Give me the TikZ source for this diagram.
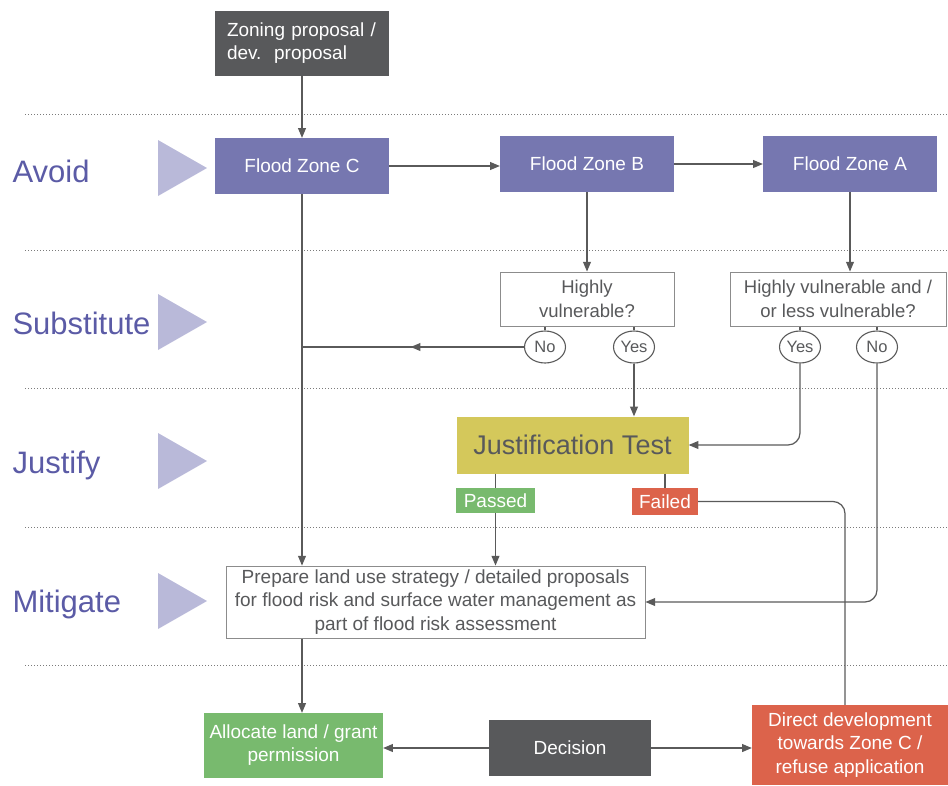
\documentclass[tikz,border=0pt]{standalone}
\usepackage{fontspec}
\setmainfont{Liberation Sans}
\usetikzlibrary{positioning}
\usetikzlibrary{arrows}
\usetikzlibrary{calc}
\usetikzlibrary{decorations.markings}
\usetikzlibrary{shapes.geometric}
\definecolor{darkbox}{HTML}{58595B}
\definecolor{zoneblue}{HTML}{7677B0}
\definecolor{lanetri}{HTML}{B9B9D9}
\definecolor{lanetext}{HTML}{5B5BA6}
\definecolor{testyellow}{HTML}{D4C85B}
\definecolor{okgreen}{HTML}{78BA6E}
\definecolor{badred}{HTML}{DC634B}
\definecolor{wire}{HTML}{5A5A5A}
\definecolor{boxline}{HTML}{8C8C8C}
\tikzset{>=triangle 45}
\tikzset{wr/.style={draw=wire, line width=1.25pt}}
\tikzset{blk/.style={fill=darkbox, text=white, inner sep=0pt, align=left, font=\fontsize{19}{23}\selectfont}}
\tikzset{zone/.style={fill=zoneblue, text=white, minimum width=174pt, minimum height=56pt, inner sep=0pt, font=\fontsize{19}{22}\selectfont}}
\tikzset{quest/.style={draw=boxline, line width=1pt, fill=white, text=darkbox, inner sep=0pt, align=center, font=\fontsize{18.5}{24}\selectfont}}
\tikzset{ans/.style={draw=wire, line width=1.1pt, ellipse, minimum width=41pt, minimum height=32pt, inner sep=0pt, text=darkbox, font=\fontsize{16.5}{18}\selectfont}}
\tikzset{tag/.style={text=white, inner sep=0pt, font=\fontsize{19}{20}\selectfont}}
\tikzset{lane/.style={anchor=west, text=lanetext, font=\fontsize{31}{34}\selectfont}}
\tikzset{sep/.style={draw=wire!80, line width=1pt, dotted}}
\tikzset{midarr/.style={postaction={decorate}, decoration={markings, mark=at position 0.51 with {\arrow{>}}}}}
\begin{document}
\begin{tikzpicture}[x=1pt, y=-1pt]
\useasboundingbox (0,0) rectangle (948,785);

% lanes
\foreach \yy in {114, 250, 388, 527, 665}
  \draw[sep] (25,\yy) -- (948,\yy);

\foreach \yy/\ty/\name in {168/171/Avoid, 322/323/Substitute, 461/465/Justify, 601/604/Mitigate} {
  \node[lane] at (9,\ty) {\name};
  \fill[lanetri] (158,\yy-28) -- (207,\yy) -- (158,\yy+28) -- cycle;
}

% boxes
\node[blk, minimum width=174pt, minimum height=65pt, text width=154pt] (zon) at (302, 43.5) {\hspace*{2pt}Zoning proposal /\\\hspace*{2pt}dev.\ \ proposal};

\node[zone] (C) at (302, 166) {Flood Zone C};
\node[zone] (B) at (587, 164) {Flood Zone B};
\node[zone] (A) at (850, 164) {Flood Zone A};

\node[quest, minimum width=174pt, minimum height=54pt] (qB) at (587, 299) {Highly\\vulnerable?};
\node[quest, minimum width=216pt, minimum height=54pt] (qA) at (838, 299) {Highly vulnerable and /\\or less vulnerable?};

\node[ans] (noB) at (545, 347) {No};
\node[ans] (yesB) at (634, 347) {Yes};
\node[ans] (yesA) at (800, 347) {Yes};
\node[ans] (noA) at (877, 347) {No};

\node[fill=testyellow, text=darkbox, minimum width=232pt, minimum height=57pt, inner sep=0pt, font=\fontsize{27}{30}\selectfont] (jt) at (572.5, 445) {Justification Test};
\node[tag, fill=okgreen, minimum width=79pt, minimum height=25pt] (pass) at (495.5, 500.5) {Passed};
\node[tag, fill=badred, minimum width=66pt, minimum height=27pt] (fail) at (665, 501.5) {Failed};

\node[quest, minimum width=419pt, minimum height=72pt, font=\fontsize{19}{23.5}\selectfont] (prep) at (435.5, 602) {Prepare land use strategy / detailed proposals\\for flood risk and surface water management as\\part of flood risk assessment};

\node[tag, fill=okgreen, minimum width=179pt, minimum height=65pt, align=center, font=\fontsize{19}{23}\selectfont] (alloc) at (293.5, 745.5) {Allocate land / grant\\permission};
\node[blk, minimum width=162pt, minimum height=56pt, align=center] (dec) at (570, 748) {Decision};
\node[tag, fill=badred, minimum width=196pt, minimum height=80pt, align=center, font=\fontsize{19}{23.5}\selectfont] (dir) at (850, 745) {Direct development\\towards Zone C /\\refuse application};

% connectors
\draw[wr, ->] (zon.south) -- (C.north);
\draw[wr, ->] (C.east) -- (B.west |- C.east);
\draw[wr, ->] (B.east) -- (A.west);
\draw[wr, ->] (B.south) -- (qB.north);
\draw[wr, ->] (A.south) -- (A.south |- qA.north);

\draw[wr] (noB.north |- qB.south) -- (noB.north);
\draw[wr] (yesB.north |- qB.south) -- (yesB.north);
\draw[wr] (yesA.north |- qA.south) -- (yesA.north);
\draw[wr] (noA.north |- qA.south) -- (noA.north);

\draw[wr, midarr] (noB.west) -- (C.south |- noB.west);
\draw[wr, ->] (C.south) -- (C.south |- prep.north);
\draw[wr, ->] (yesB.south) -- (yesB.south |- jt.north);
\draw[wr, ->, rounded corners=12pt] (yesA.south) |- (jt.east);

\draw[wr] (pass.north |- jt.south) -- (pass.north);
\draw[wr] (fail.north |- jt.south) -- (fail.north);
\draw[wr, ->] (pass.south) -- (pass.south |- prep.north);
\draw[wr, ->, rounded corners=12pt] (noA.south) |- (prep.east);
\draw[wr, rounded corners=12pt] (fail.east) -| ($(dir.north)+(-5,0)$);

\draw[wr, ->] (C.south |- prep.south) -- (C.south |- alloc.north);
\draw[wr, ->] (dec.west) -- (alloc.east |- dec.west);
\draw[wr, ->] (dec.east) -- (dir.west |- dec.east);

\end{tikzpicture}
\end{document}
